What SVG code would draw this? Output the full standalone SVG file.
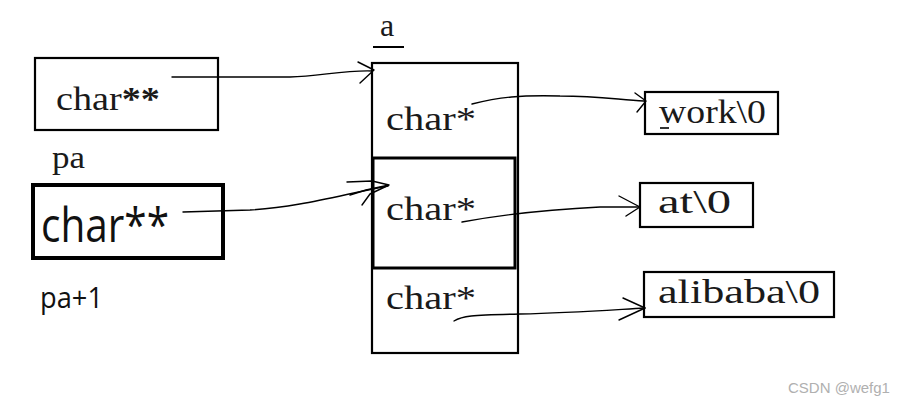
<svg xmlns="http://www.w3.org/2000/svg" width="897" height="405" viewBox="0 0 897 405">
<style>
.box{fill:none;stroke:#000;stroke-width:2.2}
.mono{font-family:"Liberation Serif","Noto Serif",serif;font-size:34px;fill:#1a1a1a}
.sans{font-family:"Open Sans","Noto Sans",sans-serif;fill:#111}
.ln{fill:none;stroke:#000;stroke-width:1.4;stroke-linecap:round;stroke-linejoin:round}
</style>
<rect width="897" height="405" fill="#fff"/>
<g id="pa">
  <rect class="box" x="35" y="58" width="183" height="72"/>
  <text class="mono" x="56" y="110" textLength="104" lengthAdjust="spacingAndGlyphs">char<tspan font-weight="bold">**</tspan></text>
  <text class="mono" x="52" y="168" style="font-size:31px" textLength="33" lengthAdjust="spacingAndGlyphs">pa</text>
</g>
<g id="pa1">
  <rect x="33" y="185" width="190" height="73" fill="none" stroke="#000" stroke-width="4"/>
  <text class="sans" x="41" y="242" font-size="47" textLength="128" lengthAdjust="spacingAndGlyphs">char**</text>
  <text class="sans" x="40" y="308" font-size="29" textLength="63" lengthAdjust="spacingAndGlyphs">pa+1</text>
</g>
<g id="a">
  <text class="mono" x="380" y="36" style="font-size:32px">a</text>
  <line x1="373" y1="47" x2="404" y2="47" stroke="#000" stroke-width="2"/>
  <rect class="box" x="372" y="63" width="146" height="290"/>
  <rect x="373" y="158" width="142" height="110" fill="none" stroke="#000" stroke-width="3"/>
  <text class="mono" x="386" y="130" textLength="90" lengthAdjust="spacingAndGlyphs">char*</text>
  <text class="mono" x="386" y="220" textLength="90" lengthAdjust="spacingAndGlyphs">char*</text>
  <text class="mono" x="386" y="309" textLength="90" lengthAdjust="spacingAndGlyphs">char*</text>
</g>
<g id="work">
  <rect class="box" x="645" y="92" width="133" height="42"/>
  <text class="mono" x="659" y="123" textLength="107" lengthAdjust="spacingAndGlyphs">work\0</text>
  <line x1="660" y1="128" x2="669" y2="128" stroke="#000" stroke-width="1.6"/>
</g>
<g id="at">
  <rect class="box" x="640" y="183" width="113" height="44"/>
  <text class="mono" x="658" y="213" textLength="73" lengthAdjust="spacingAndGlyphs">at\0</text>
</g>
<g id="alibaba">
  <rect class="box" x="644" y="272" width="190" height="45"/>
  <text class="mono" x="658" y="303" textLength="162" lengthAdjust="spacingAndGlyphs">alibaba\0</text>
</g>
<g id="connectors">
  <path class="ln" d="M172 77 L290 77 C320 76 345 70 372 71"/>
  <path class="ln" d="M358 62 L374 70 L360 83"/>
  <path class="ln" d="M183 212 L250 210 C300 207 340 195 388 186"/>
  <path class="ln" d="M347 182 L372 181 L389 185 L366 190 L350 195 M389 185 L370 194 L362 205" stroke-width="1"/>
  <path class="ln" d="M472 104 C500 97 520 95 560 96 C600 96 620 100 644 101"/>
  <path class="ln" d="M635 93 L646 101 L637 112"/>
  <path class="ln" d="M462 222 C500 215 540 210 600 207 L640 207"/>
  <path class="ln" d="M619 196 L640 207 L626 216"/>
  <path class="ln" d="M454 321 C462 316 470 315 520 314 C570 313 610 310 645 308"/>
  <path class="ln" d="M623 298 L645 308 L619 320"/>
</g>
<text x="788" y="393" font-family="Liberation Sans, Arial, sans-serif" font-size="15" fill="#b0b0b0">CSDN @wefg1</text>
</svg>
